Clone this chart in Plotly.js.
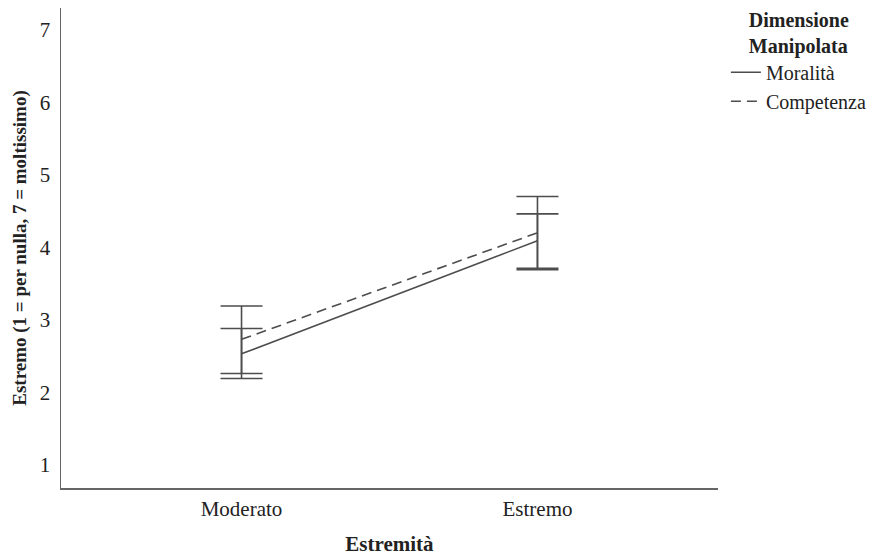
<!DOCTYPE html>
<html><head><meta charset="utf-8">
<script src="https://cdn.plot.ly/plotly-3.0.1.min.js"></script>
<style>html,body{margin:0;padding:0;background:#fff}#chart{width:876px;height:556px}</style>
</head><body><div id="chart"></div>
<script>
const categories = ["Moderato", "Estremo"];
const seriesNames = ["Moralità", "Competenza"];
const moralitaMean = [2.53, 4.09];
const moralitaLow = [2.19, 3.71];
const moralitaHigh = [2.88, 4.46];
const competenzaMean = [2.73, 4.20];
const competenzaLow = [2.26, 3.69];
const competenzaHigh = [3.19, 4.70];

const font = "'Liberation Serif', 'Times New Roman', serif";
const lineColor = "#4d4d4d";

function mk(name, mean, low, high, dash) {
  return {
    type: "scatter", mode: "lines", name: name,
    x: categories, y: mean,
    line: {color: lineColor, width: 1.6, dash: dash},
    error_y: {
      type: "data", symmetric: false,
      array: high.map((h, i) => h - mean[i]),
      arrayminus: low.map((l, i) => mean[i] - l),
      color: lineColor, thickness: 1.6, width: 21
    },
    hoverinfo: "skip"
  };
}

const data = [
  mk(seriesNames[0], moralitaMean, moralitaLow, moralitaHigh, "solid"),
  mk(seriesNames[1], competenzaMean, competenzaLow, competenzaHigh, "10px,6px")
];

const layout = {
  width: 876, height: 556,
  margin: {l: 61, r: 158, t: 8, b: 68, autoexpand: false},
  paper_bgcolor: "#fff", plot_bgcolor: "#fff",
  font: {family: font, color: "#222", size: 21},
  showlegend: true,
  legend: {
    x: 1.012, xanchor: "left", y: 1.015, yanchor: "top",
    font: {family: font, size: 20, color: "#222"},
    title: {text: "<b>Dimensione<br>Manipolata</b>", side: "top center", font: {family: font, size: 20, color: "#222"}},
    tracegroupgap: 0
  },
  xaxis: {
    type: "category", range: [-0.61, 1.61],
    showline: true, linecolor: "#666", linewidth: 1.5,
    showgrid: false, zeroline: false,
    ticks: "outside", ticklen: 1, tickcolor: "rgba(0,0,0,0)",
    tickfont: {family: font, size: 21, color: "#222"},
    title: {text: "<b>Estremità</b>", font: {family: font, size: 21, color: "#222"}, standoff: 24}
  },
  yaxis: {
    range: [0.68, 7.3],
    tickvals: [1, 2, 3, 4, 5, 6, 7],
    showline: true, linecolor: "#666", linewidth: 1.5,
    showgrid: false, zeroline: false,
    ticks: "outside", ticklen: 5, tickcolor: "rgba(0,0,0,0)",
    tickfont: {family: font, size: 21, color: "#222"},
    title: {text: "<b>Estremo (1 = per nulla, 7 = moltissimo)</b>", font: {family: font, size: 19, color: "#222"}, standoff: 8}
  }
};

Plotly.newPlot("chart", data, layout, {displayModeBar: false, staticPlot: true});
</script>
</body></html>
